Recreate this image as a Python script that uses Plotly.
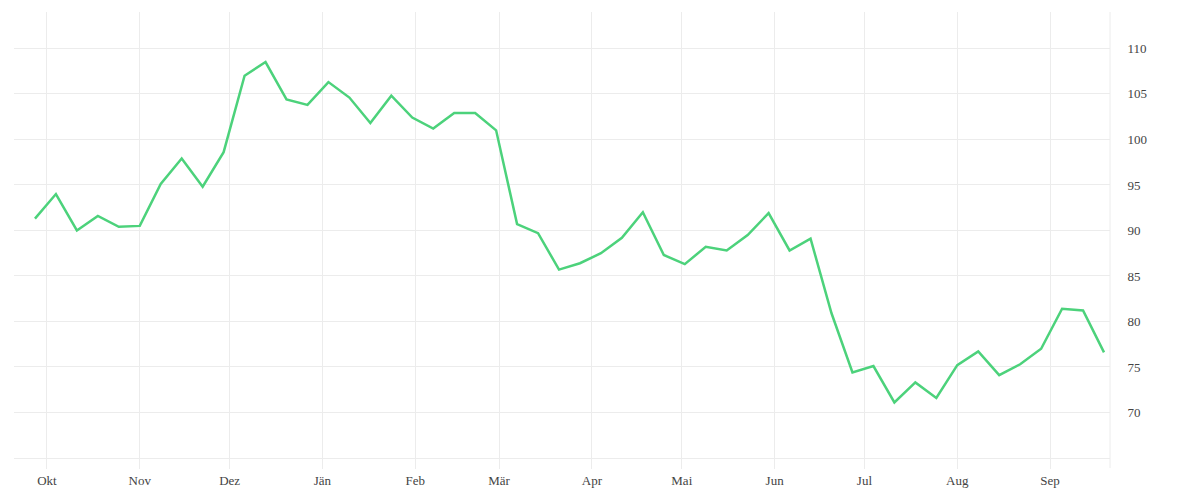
import pandas as pd
import plotly.graph_objects as go

# weekly values
start_date = "2021-09-27"
values = [
    91.3, 94.0, 90.0, 91.6, 90.4, 90.5, 95.1, 97.9, 94.8, 98.6,
    107.0, 108.5, 104.4, 103.8, 106.3, 104.6, 101.8, 104.8, 102.4, 101.2,
    102.9, 102.9, 101.0, 90.7, 89.7, 85.7, 86.4, 87.5, 89.2, 92.0,
    87.3, 86.3, 88.2, 87.8, 89.5, 91.9, 87.8, 89.1, 80.9, 74.4,
    75.1, 71.1, 73.3, 71.6, 75.2, 76.7, 74.1, 75.3, 77.0, 81.4,
    81.2, 76.6,
]
dates = pd.date_range(start_date, periods=len(values), freq="7D")

month_ticks = pd.date_range("2021-10-01", "2022-09-01", freq="MS")
month_labels = ["Okt", "Nov", "Dez", "Jän", "Feb", "Mär",
                "Apr", "Mai", "Jun", "Jul", "Aug", "Sep"]
y_ticks = [70, 75, 80, 85, 90, 95, 100, 105, 110]

grid = "#ececec"
font_family = "Liberation Serif, serif"

fig = go.Figure()
fig.add_trace(go.Scatter(
    x=dates,
    y=values,
    mode="lines",
    line=dict(color="#4cd27b", width=2.5),
    hoverinfo="x+y",
))

# the page body adds 8px, so margins are shifted to land where the reference is
fig.update_layout(
    width=1200,
    height=500,
    margin=dict(l=6, r=98, t=4, b=50),
    paper_bgcolor="white",
    plot_bgcolor="white",
    showlegend=False,
    font=dict(family=font_family, size=13, color="#444"),
    xaxis=dict(
        range=["2021-09-20", "2022-09-21"],
        tickvals=month_ticks,
        ticktext=month_labels,
        showgrid=True,
        gridcolor=grid,
        gridwidth=1,
        ticks="outside",
        ticklen=10,
        tickcolor=grid,
        showline=True,
        linecolor=grid,
        zeroline=False,
    ),
    yaxis=dict(
        side="right",
        range=[65, 114],
        tickvals=y_ticks,
        showgrid=True,
        gridcolor=grid,
        gridwidth=1,
        ticks="outside",
        ticklen=14,
        tickcolor="rgba(0,0,0,0)",
        showline=False,
        zeroline=False,
    ),
    shapes=[dict(
        type="line", xref="paper", yref="paper",
        x0=1, x1=1, y0=-10 / 446, y1=1,
        line=dict(color=grid, width=1),
    )],
)

fig.write_html("out.html")
